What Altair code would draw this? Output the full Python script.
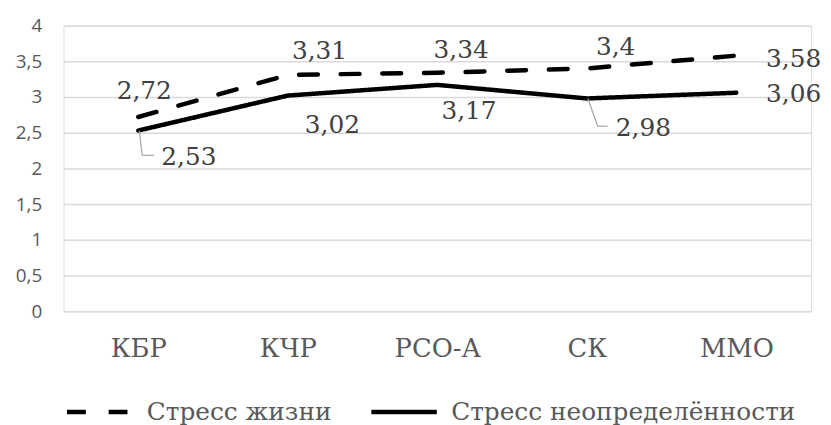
import altair as alt
import pandas as pd

categories = ["КБР", "КЧР", "РСО-А", "СК", "ММО"]
series_names = ["Стресс жизни", "Стресс неопределённости"]
life_stress = [2.72, 3.31, 3.34, 3.4, 3.58]
uncertainty_stress = [2.53, 3.02, 3.17, 2.98, 3.06]
y_ticks = [0, 0.5, 1, 1.5, 2, 2.5, 3, 3.5, 4]

rows = []
for i, c in enumerate(categories):
    rows.append({"cat": c, "series": series_names[0], "value": life_stress[i], "idx": i})
    rows.append({"cat": c, "series": series_names[1], "value": uncertainty_stress[i], "idx": i})
df = pd.DataFrame(rows)
df["label"] = df["value"].map(lambda v: f"{v:g}".replace(".", ","))

SERIF = "DejaVu Serif"
SANS = "Open Sans"

# label placement styles (pixel offsets from each point)
life_dx = [6, 32, 24, 29, 30]
life_dy = [-26, -24, -23, -22, 3]
unc_dx = [51, 45, 32, 57, 30]
unc_dy = [27, 30, 26, 30, 1]
aligns = ["center", "center", "center", "center", "left"]

x_enc = alt.X(
    "cat:N",
    sort=categories,
    scale=alt.Scale(type="point", domain=categories, padding=0.5),
    axis=alt.Axis(
        title=None, labelFont=SERIF, labelFontSize=26, labelColor="#595959",
        ticks=False, domain=False, grid=False, labelPadding=25, labelAngle=0,
    ),
)
y_enc = alt.Y(
    "value:Q",
    scale=alt.Scale(domain=[0, 4], nice=False, zero=True),
    axis=alt.Axis(
        title=None, values=y_ticks, labelExpr="replace(toString(datum.value), '.', ',')",
        domain=False, ticks=False, gridColor="#d9d9d9", gridWidth=1.5,
        labelPadding=22, labelFont=SANS, labelFontSize=19, labelColor="#595959",
    ),
)

lines = alt.Chart(df).mark_line(
    color="black", strokeWidth=4.5, strokeCap="round", strokeJoin="round"
).encode(
    x=x_enc,
    y=y_enc,
    strokeDash=alt.StrokeDash(
        "series:N",
        sort=series_names,
        scale=alt.Scale(domain=series_names, range=[[19, 23], [1, 0]]),
        legend=alt.Legend(
            title=None, orient="none", legendX=1, legendY=354, direction="horizontal",
            symbolType="stroke", symbolSize=66 * 66, symbolStrokeWidth=4.5,
            symbolStrokeColor="black", labelFont=SERIF, labelFontSize=25,
            labelColor="#595959", labelOffset=12, columnPadding=30, padding=0,
            labelLimit=0,
        ),
    ),
)

layers = [lines]
for s_i, (dxs, dys) in enumerate([(life_dx, life_dy), (unc_dx, unc_dy)]):
    for i in range(len(categories)):
        layers.append(
            alt.Chart(df)
            .transform_filter(f"datum.series == '{series_names[s_i]}' && datum.idx == {i}")
            .mark_text(
                dx=dxs[i], dy=dys[i], align=aligns[i], baseline="middle",
                font=SERIF, fontSize=25, color="#404040",
            )
            .encode(x=x_enc, y=y_enc, text="label:N")
        )

# leader lines for КБР (idx 0) and СК (idx 3) of second series
leaders = {0: (1, 4, 25, 16), 3: (1, 11, 28, 21)}
for i, (xo, x2o, y2o, hx2) in leaders.items():
    base = alt.Chart(df).transform_filter(
        f"datum.series == '{series_names[1]}' && datum.idx == {i}"
    )
    layers.append(
        base.mark_rule(color="#a6a6a6", strokeWidth=1.2, xOffset=xo, x2Offset=x2o, y2Offset=y2o)
        .encode(x=x_enc, y=y_enc, x2=alt.X2("cat:N"), y2=alt.Y2("value:Q"))
    )
    layers.append(
        base.mark_rule(color="#a6a6a6", strokeWidth=1.2, xOffset=x2o, x2Offset=hx2,
                       yOffset=y2o, y2Offset=y2o)
        .encode(x=x_enc, y=y_enc, x2=alt.X2("cat:N"), y2=alt.Y2("value:Q"))
    )

chart = alt.layer(*layers).properties(
    width=754,
    height=288,
    autosize=alt.AutoSizeParams(type="none"),
    padding={"left": 56, "top": 16, "right": 12, "bottom": 113},
).configure_view(stroke=None).configure(background="white")

chart.save("out.html", embed_options={"renderer": "svg", "actions": False})
